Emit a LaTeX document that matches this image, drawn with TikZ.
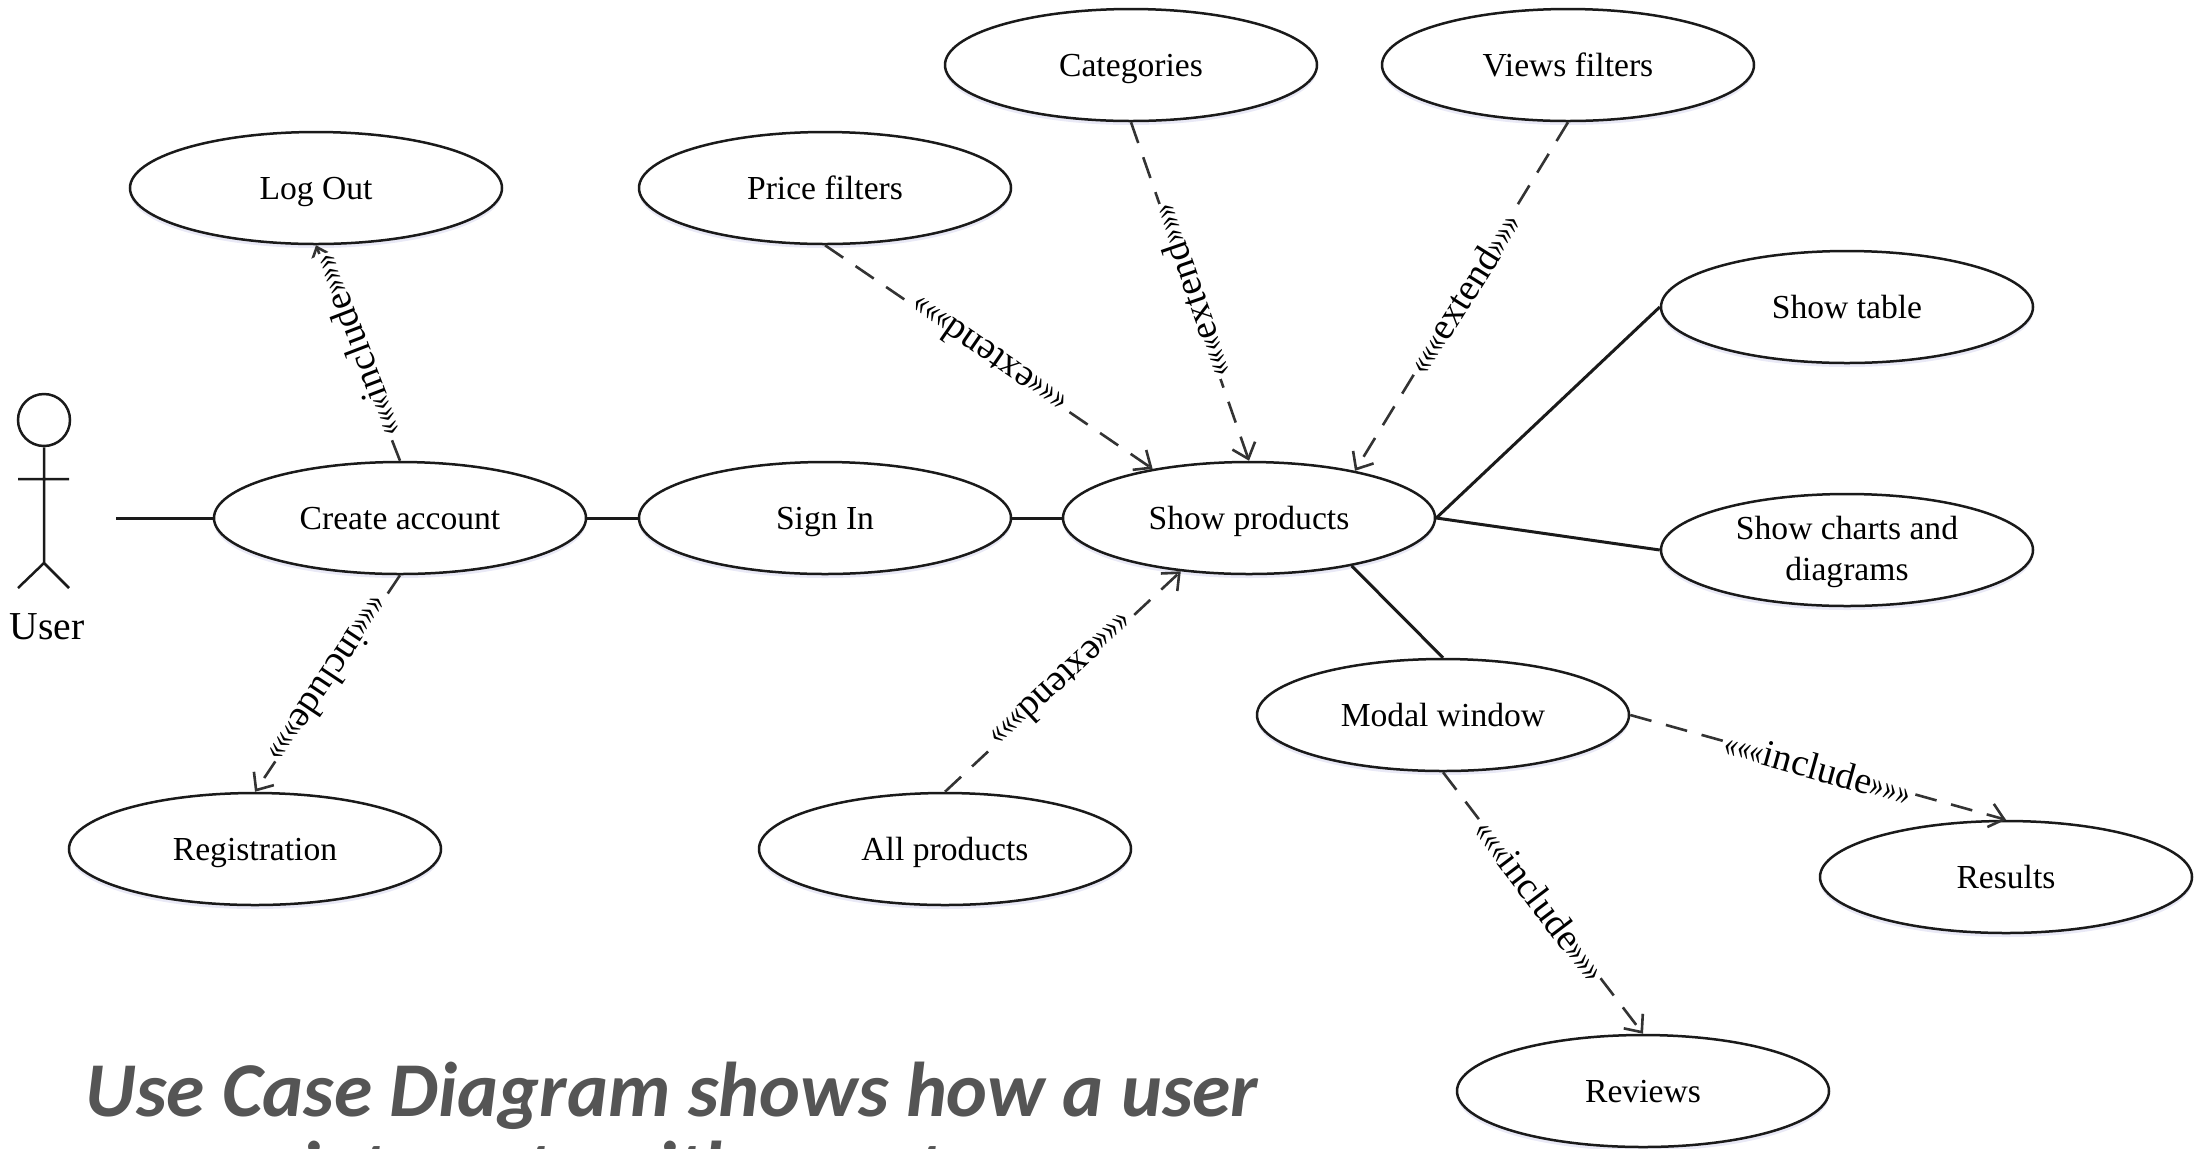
\documentclass[tikz,border=0pt]{standalone}
\usepackage{fontspec}
\setmainfont{Liberation Serif}
\newfontfamily\titlefont{Carlito}
\usetikzlibrary{shapes.geometric,arrows.meta,shadows}
\definecolor{ink}{HTML}{1A1A1A}
\definecolor{dashink}{HTML}{333333}
\definecolor{titleink}{HTML}{555555}
\newcommand\chevrons[1]{\scalebox{.7}[1]{#1}}
\newcommand\stereotext[1]{\chevrons{«««}#1\chevrons{»»»}}
\tikzset{
  usecase/.style={ellipse,draw=ink,line width=1.25pt,fill=white,minimum width=186pt,minimum height=56pt,inner sep=0pt,align=center,
    font=\fontsize{16.8}{20.5}\selectfont,text=black,text height=11pt,text depth=0pt,
    drop shadow={shadow xshift=0pt,shadow yshift=-2pt,fill=blue!40!gray,opacity=.12}},
  assoc/.style={draw=ink,line width=1.5pt},
  dep/.style={draw=dashink,line width=1.3pt,dash pattern=on 11pt off 7.5pt,-{Straight Barb[length=7pt,width=12pt,line width=1.3pt]}},
  stereo/.style={fill=white,inner sep=1pt,font=\fontsize{19}{21}\selectfont,text=black},
  actorline/.style={draw=ink,line width=1.25pt},
  titletext/.style={font=\titlefont\bfseries\itshape\fontsize{38.8}{40}\selectfont,text=titleink,anchor=base,inner sep=0pt}
}
\begin{document}
\begin{tikzpicture}[x=0.5pt,y=-0.5pt]
\useasboundingbox (0,0) rectangle (2208,1148);
\node[usecase] (logout) at (316,188) {Log Out};
\node[usecase] (price) at (825,188) {Price filters};
\node[usecase] (cat) at (1131,65) {Categories};
\node[usecase] (views) at (1568,65) {Views filters};
\node[usecase] (table) at (1847,307) {Show table};
\node[usecase,text height=30pt] (charts) at (1847,550) {Show charts and\\diagrams};
\node[usecase] (create) at (400,518) {Create account};
\node[usecase] (signin) at (825,518) {Sign In};
\node[usecase] (show) at (1249,518) {Show products};
\node[usecase] (modal) at (1443,715) {Modal window};
\node[usecase] (results) at (2006,877) {Results};
\node[usecase] (reviews) at (1643,1091) {Reviews};
\node[usecase] (reg) at (255,849) {Registration};
\node[usecase] (all) at (945,849) {All products};
% actor
\node[circle,actorline,minimum size=26pt,inner sep=0pt] (head) at (44,420) {};
\coordinate (hip) at (44,563);
\coordinate (armL) at (18,479);
\coordinate (armR) at (69,479);
\coordinate (footL) at (18,588);
\coordinate (footR) at (69,588);
\draw[actorline] (head.south) -- (hip) (armL) -- (armR) (footL) -- (hip) -- (footR);
\node[font=\fontsize{19.8}{22}\selectfont,inner sep=0pt] (user) at (47,627) {User};
\coordinate (actorend) at (116,518);
% solid
\draw[assoc] (actorend) -- (create.west);
\draw[assoc] (create.east) -- (signin.west);
\draw[assoc] (signin.east) -- (show.west);
\draw[assoc] (show.east) -- (table.west);
\draw[assoc] (show.east) -- (charts.west);
\draw[assoc] (show.-25.6) -- (modal.north);
% dependencies
\draw[dep] (create.north) -- (logout.south) node[stereo,pos=.53,rotate=111] {\stereotext{include}};
\draw[dep] (create.south) -- (reg.north) node[stereo,pos=.484,rotate=236.4] {\stereotext{include}};
\draw[dep] (price.south) -- (show.153.8) node[stereo,pos=.496,rotate=145.3] {\stereotext{extend}};
\draw[dep] (cat.south) -- (show.north) node[stereo,pos=.5,rotate=109] {\stereotext{extend}};
\draw[dep] (views.south) -- (show.24.9) node[stereo,pos=.49,rotate=57.9] {\stereotext{extend}};
\draw[dep] (all.north) -- (show.218.2) node[stereo,pos=.5,rotate=223] {\stereotext{extend}};
\draw[dep] (modal.east) -- (results.north) node[stereo,pos=.5,rotate=-15.6] {\stereotext{include}};
\draw[dep] (modal.south) -- (reviews.north) node[stereo,pos=.49,rotate=-52.8] {\stereotext{include}};
% title
\begin{scope}
\clip (0,0) rectangle (2208,1148);
\node[titletext] (title1) at (672,1116) {Use Case Diagram shows how a user};
\node[titletext] (title2) at (672,1195) {interacts with a system};
\end{scope}
\end{tikzpicture}
\end{document}
